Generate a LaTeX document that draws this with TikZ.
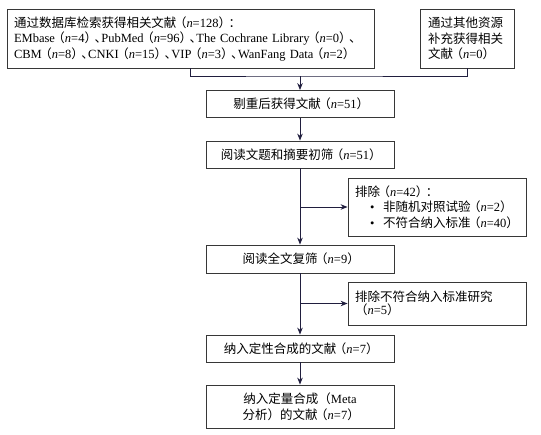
\documentclass[tikz,border=0pt]{standalone}
\usepackage{fontspec}
\setmainfont{Liberation Serif}
\newfontfamily\cjk{Noto Sans CJK SC}
\usepackage{xcolor}
\usetikzlibrary{arrows.meta, calc}
\definecolor{flowline}{RGB}{32,30,62}
\definecolor{boxline}{RGB}{55,55,55}
\newcommand{\zh}[1]{{\cjk #1}}
\newcommand{\nn}[1]{\kern-.2em\zh{（}\textit{n}=#1\zh{）}\kern-.2em}
\newcommand{\dun}{\zh{、}\kern-.45em}
\newcommand{\bitem}{\hspace*{15pt}\makebox[13pt][l]{•}}

\begin{document}
\begin{tikzpicture}[x=1pt, y=-1pt, >={Stealth[length=7pt, width=5.5pt]}, every node/.style={font=\fontsize{12.5}{15.5}\selectfont}]
  \tikzset{stagebox/.style={draw=boxline, line width=0.8pt, inner sep=0pt, minimum width=188pt, minimum height=27pt, align=center},
           sidebox/.style={stagebox, minimum width=178pt, text width=164pt, align=left},
           flow/.style={draw=flowline, line width=1pt}}
  \useasboundingbox (0,0) rectangle (541,434);
  \node[stagebox, minimum width=367pt, minimum height=59pt, text width=353pt, align=left] (dbSearch) at (190.5,38.5) {\zh{通过数据库检索获得相关文献}\nn{128}\zh{：}\\EMbase\nn{4}\dun PubMed\nn{96}\dun The Cochrane Library\nn{0}\dun\\CBM\nn{8}\dun CNKI\nn{15}\dun VIP\nn{3}\dun WanFang Data\nn{2}};
  \node[stagebox, minimum width=94pt, minimum height=59pt, text width=78pt, align=left] (otherSrc) at (467,38.5) {\zh{通过其他资源}\\\zh{补充获得相关}\\\zh{文献}\nn{0}};
  \node[stagebox] (dedup) at (300,104) {\zh{剔重后获得文献}\nn{51}};
  \node[stagebox] (titleScr) at (300,154.5) {\zh{阅读文题和摘要初筛}\nn{51}};
  \node[sidebox, minimum height=58pt] (exclA) at (437,207) {\zh{排除}\nn{42}\zh{：}\\\bitem\zh{非随机对照试验}\nn{2}\\\bitem\zh{不符合纳入标准}\nn{40}};
  \node[stagebox, minimum height=28pt] (fullScr) at (300,259) {\zh{阅读全文复筛}\nn{9}};
  \node[sidebox, minimum height=43pt] (exclB) at (437,303.5) {\zh{排除不符合纳入标准研究}\\\nn{5}};
  \node[stagebox] (qualSyn) at (300,348.5) {\zh{纳入定性合成的文献}\nn{7}};
  \node[stagebox, minimum height=43pt] (metaSyn) at (300,406.5) {\zh{纳入定量合成（}Meta\\\zh{分析）的文献}\nn{7}};
  \coordinate (join) at (300,76);
  \draw[flow] (dbSearch.south) |- (join) -| (otherSrc.south);
  \draw[flow, ->] (join) -- (dedup.north);
  \draw[flow, ->] (dedup) -- (titleScr);
  \draw[flow, ->] (titleScr) -- (fullScr);
  \draw[flow, ->] (titleScr.south |- exclA.west) -- (exclA.west);
  \draw[flow, ->] (fullScr) -- (qualSyn);
  \draw[flow, ->] (fullScr.south |- exclB.west) -- (exclB.west);
  \draw[flow, ->] (qualSyn) -- (metaSyn);
\end{tikzpicture}
\end{document}
